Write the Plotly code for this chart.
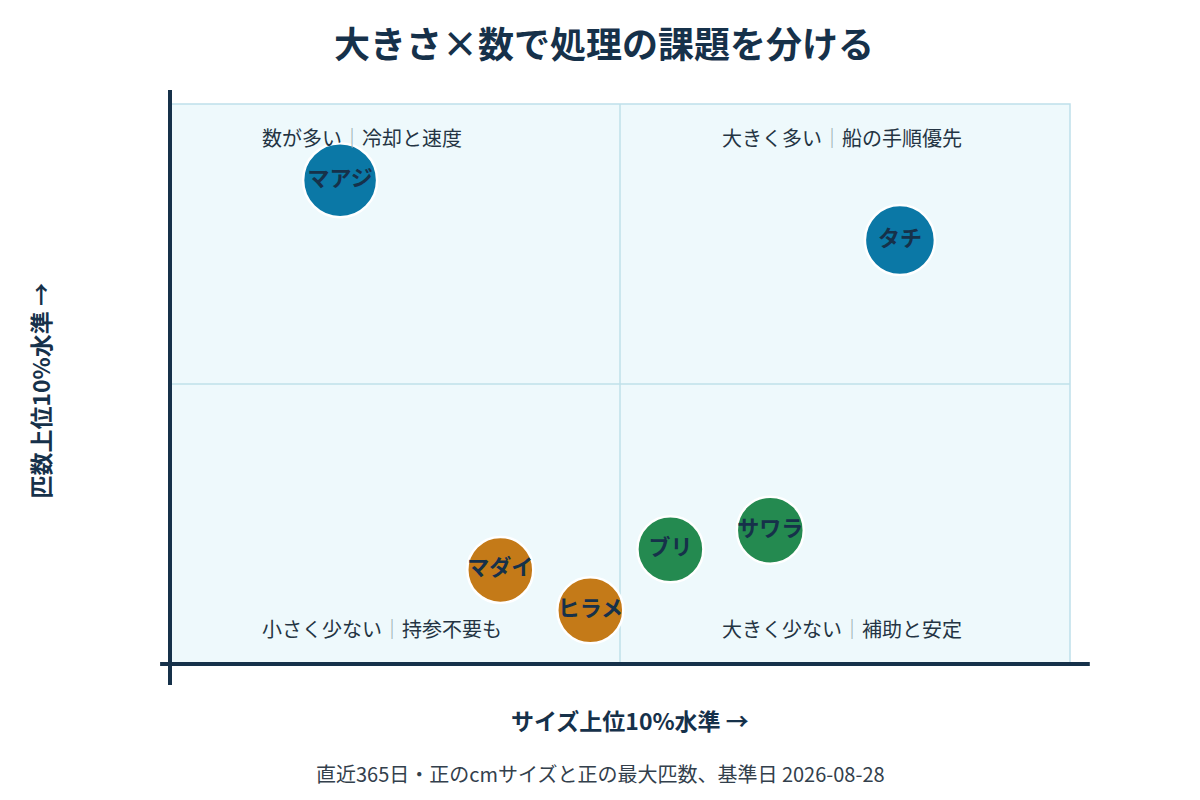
import plotly.graph_objects as go

# species, size level (x) and count level (y), 0-100 scale
species = ["マアジ", "タチ", "サワラ", "ブリ", "マダイ", "ヒラメ"]
size_level = [18.9, 81.1, 66.7, 55.6, 36.7, 46.7]
count_level = [86.4, 75.7, 23.9, 20.5, 16.8, 9.6]
group = ["count", "both", "size", "size", "low", "low"]

quad_labels = [
    ("数が多い", "冷却と速度"),
    ("大きく多い", "船の手順優先"),
    ("小さく少ない", "持参不要も"),
    ("大きく少ない", "補助と安定"),
]

colors = {"count": "#0b78a6", "both": "#0b78a6", "size": "#248a50", "low": "#c47a18"}
diam = [74, 70, 67, 66, 66, 66]
navy = "#16314a"
font = "Noto Sans CJK JP"

fig = go.Figure()
fig.add_trace(go.Scatter(
    x=size_level, y=count_level, mode="markers+text",
    text=species, textposition="middle center",
    textfont=dict(family=font, size=22, color=navy, weight="bold"),
    marker=dict(size=diam, color=[colors[g] for g in group],
                line=dict(color="white", width=2.5), opacity=1),
    hoverinfo="text", showlegend=False,
))

# quadrant frame and dividers
box = "#bfe0ea"
fig.add_shape(type="rect", xref="paper", yref="paper", x0=0, x1=1, y0=0, y1=1,
              line=dict(color=box, width=1.5), layer="below")
fig.add_shape(type="line", x0=50, x1=50, y0=0, y1=100, line=dict(color=box, width=1.5), layer="below")
fig.add_shape(type="line", x0=0, x1=100, y0=50, y1=50, line=dict(color=box, width=1.5), layer="below")

# heavy axis lines
fig.add_shape(type="line", xref="paper", yref="paper", x0=0, x1=0, y0=-0.0375, y1=1.025,
              line=dict(color=navy, width=4))
fig.add_shape(type="line", xref="paper", yref="paper", x0=-0.011, x1=1.022, y0=0, y1=0,
              line=dict(color=navy, width=4))

pos = [(0.1, 0.941), (0.611, 0.941), (0.1, 0.064), (0.611, 0.064)]
for (a, b), (px, py) in zip(quad_labels, pos):
    fig.add_annotation(xref="paper", yref="paper", x=px, y=py, xanchor="left", yanchor="middle",
                       showarrow=False,
                       text=f"{a}<span style='color:#98a4ae'>｜</span>{b}",
                       font=dict(family=font, size=20, color="#243443"))

fig.add_annotation(xref="paper", yref="paper", x=0.511, y=-0.1, xanchor="center", yanchor="middle",
                   showarrow=False,
                   text="サイズ上位10%水準 →", font=dict(family=font, size=23, color=navy, weight="bold"))
fig.add_annotation(xref="paper", yref="paper", x=-0.144, y=0.489, xanchor="center", yanchor="middle",
                   showarrow=False, textangle=-90,
                   text="匹数上位10%水準 →", font=dict(family=font, size=23, color=navy, weight="bold"))
fig.add_annotation(xref="paper", yref="paper", x=0.478, y=-0.195, xanchor="center", yanchor="middle",
                   showarrow=False,
                   text="直近365日・正のcmサイズと正の最大匹数、基準日 2026-08-28",
                   font=dict(family=font, size=20, color="#33404c"))

# page body has an 8px margin, so the figure is a little smaller than the window
fig.update_layout(
    width=1192, height=792,
    margin=dict(l=162, r=130, t=96, b=136),
    paper_bgcolor="white", plot_bgcolor="#eef9fc",
    title=dict(text="大きさ×数で処理の課題を分ける", x=0.5, xanchor="center", y=0.953, yanchor="middle",
               font=dict(family=font, size=36, color=navy, weight="bold")),
    xaxis=dict(range=[0, 100], visible=False, fixedrange=True),
    yaxis=dict(range=[0, 100], visible=False, fixedrange=True),
    font=dict(family=font),
)

fig.write_html("out.html")
